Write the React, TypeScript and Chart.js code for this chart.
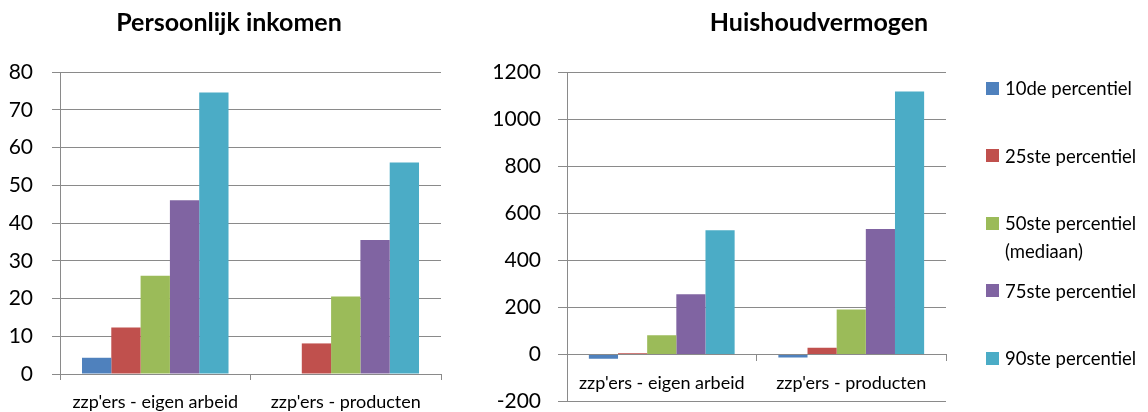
import React, { useEffect, useRef } from "react";
import { Chart, registerables } from "chart.js";

Chart.register(...registerables);

const categories = ["zzp'ers - eigen arbeid", "zzp'ers - producten"];
const seriesLabels = [
  "10de percentiel",
  "25ste percentiel",
  "50ste percentiel\n(mediaan)",
  "75ste percentiel",
  "90ste percentiel",
];
const seriesColors = ["#4F81BD", "#C0504D", "#9BBB59", "#8064A2", "#4BACC6"];

const inkomenP10 = [4.3, null];
const inkomenP25 = [12.3, 8.1];
const inkomenP50 = [26, 20.5];
const inkomenP75 = [46, 35.5];
const inkomenP90 = [74.6, 56];

const vermogenP10 = [-18, -13];
const vermogenP25 = [5, 28];
const vermogenP50 = [81, 191];
const vermogenP75 = [256, 533];
const vermogenP90 = [528, 1117];

const inkomenTicks = [0, 10, 20, 30, 40, 50, 60, 70, 80];
const vermogenTicks = [-200, 0, 200, 400, 600, 800, 1000, 1200];

const titleInkomen = "Persoonlijk inkomen";
const titleVermogen = "Huishoudvermogen";

const FONT = "Lato, 'Open Sans', sans-serif";
const GRID = "#8a8a8a";

function makeConfig(opts: any) {
  const series = opts.series as (number | null)[][];
  const ticks = opts.ticks as number[];
  return {
    type: "bar",
    data: {
      labels: categories,
      datasets: series.map((d, i) => ({
        label: seriesLabels[i].replace("\n", " "),
        data: d,
        backgroundColor: seriesColors[i],
        borderWidth: 0,
        categoryPercentage: 5 / 6.5,
        barPercentage: 1,
      })),
    },
    options: {
      responsive: false,
      animation: false,
      events: [],
      layout: { padding: { left: 0, right: 0, top: 0, bottom: opts.padBottom } },
      plugins: {
        legend: { display: false },
        tooltip: { enabled: false },
        title: {
          display: true,
          text: opts.title,
          color: "#000",
          font: { family: FONT, size: 25, weight: "bold", lineHeight: 1.2 },
          padding: { top: 8, bottom: 34 },
        },
      },
      scales: {
        x: {
          type: "category",
          position: opts.xPosition,
          offset: true,
          grid: {
            display: true,
            drawOnChartArea: false,
            drawTicks: true,
            tickLength: 6,
            color: GRID,
            offset: true,
          },
          border: { display: true, color: GRID },
          ticks: {
            color: "#000",
            font: { family: FONT, size: 18, lineHeight: 1.2 },
            padding: opts.xPad,
            maxRotation: 0,
            autoSkip: false,
          },
          afterFit: (s: any) => {
            s.height = opts.xHeight;
          },
        },
        y: {
          type: "linear",
          position: "left",
          min: ticks[0],
          max: ticks[ticks.length - 1],
          grid: { color: GRID, tickLength: opts.yTick },
          border: { display: true, color: GRID },
          ticks: {
            stepSize: ticks[1] - ticks[0],
            color: "#000",
            font: { family: FONT, size: 21, lineHeight: 1 },
            padding: opts.yPad,
            callback: (v: any) => String(v),
          },
          afterFit: (s: any) => {
            s.width = opts.yWidth;
          },
        },
        spacer: {
          type: "linear",
          position: "right",
          display: true,
          grid: { display: false },
          border: { display: false },
          ticks: { display: false },
          afterFit: (s: any) => {
            s.width = opts.rightSpace;
          },
        },
      },
    },
  } as any;
}

export default function App() {
  const leftRef = useRef<HTMLCanvasElement>(null);
  const rightRef = useRef<HTMLCanvasElement>(null);

  useEffect(() => {
    const c1 = new Chart(
      leftRef.current as HTMLCanvasElement,
      makeConfig({
        title: titleInkomen,
        series: [inkomenP10, inkomenP25, inkomenP50, inkomenP75, inkomenP90],
        ticks: inkomenTicks,
        padBottom: 0,
        xPosition: "bottom",
        xPad: 11,
        xHeight: 38,
        yTick: 8,
        yPad: 19,
        yWidth: 60,
        rightSpace: 17,
      })
    );
    const c2 = new Chart(
      rightRef.current as HTMLCanvasElement,
      makeConfig({
        title: titleVermogen,
        series: [vermogenP10, vermogenP25, vermogenP50, vermogenP75, vermogenP90],
        ticks: vermogenTicks,
        padBottom: 0,
        xPosition: { y: 0 },
        xPad: 12,
        xHeight: 0,
        yTick: 9,
        yPad: 17,
        yWidth: 77,
        rightSpace: 202,
      })
    );
    return () => {
      c1.destroy();
      c2.destroy();
    };
  }, []);

  const legendTop0 = 88;
  const legendStep = 67.5;

  return (
    <div
      style={{
        position: "absolute",
        left: 0,
        top: 0,
        width: 1148,
        height: 412,
        background: "#fff",
        fontFamily: FONT,
        overflow: "hidden",
      }}
    >
      <canvas
        ref={leftRef}
        width={458}
        height={412}
        style={{ position: "absolute", left: 0, top: 0, width: 458, height: 412 }}
      />
      <canvas
        ref={rightRef}
        width={658}
        height={429}
        style={{ position: "absolute", left: 490, top: 0, width: 658, height: 429 }}
      />
      {seriesLabels.map((lab, i) => {
        const c = legendTop0 + i * legendStep;
        return (
          <React.Fragment key={i}>
            <div
              style={{
                position: "absolute",
                left: 986,
                top: c - 6.5,
                width: 13,
                height: 13,
                background: seriesColors[i],
              }}
            />
            <div
              style={{
                position: "absolute",
                left: 1005,
                top: c - 14,
                fontSize: 18.5,
                lineHeight: "28px",
                color: "#000",
                whiteSpace: "pre",
              }}
            >
              {lab}
            </div>
          </React.Fragment>
        );
      })}
    </div>
  );
}
